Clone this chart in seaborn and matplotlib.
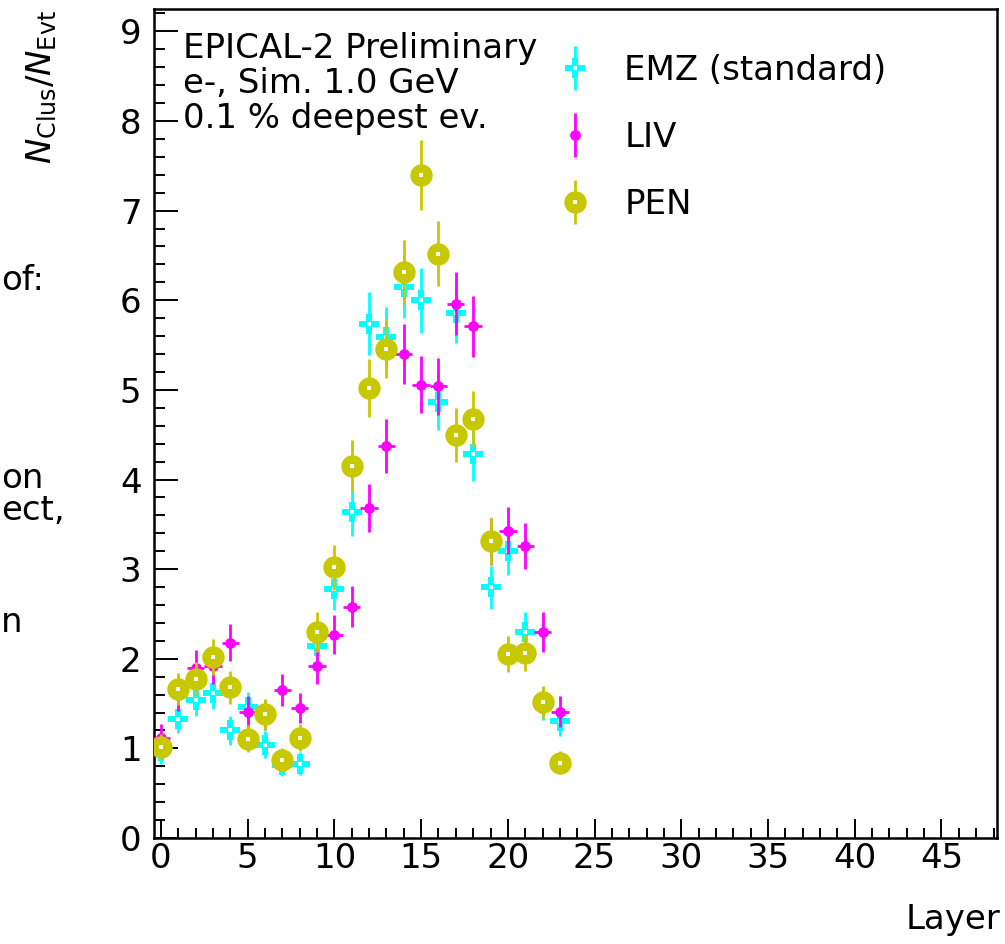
import matplotlib
matplotlib.use("Agg")
import matplotlib.pyplot as plt
import seaborn as sns
import pandas as pd
from matplotlib.lines import Line2D
from matplotlib.ticker import MultipleLocator

# ---------------- data ----------------
layers = list(range(24))
series_names = ["EMZ (standard)", "LIV", "PEN"]

emz = [0.97, 1.33, 1.54, 1.62, 1.20, 1.46, 1.04, 0.82, 0.83, 2.14, 2.78, 3.64,
       5.74, 5.59, 6.15, 6.00, 4.87, 5.86, 4.28, 2.80, 3.20, 2.30, 1.49, 1.30]
emz_err = [0.14, 0.16, 0.18, 0.18, 0.16, 0.17, 0.15, 0.13, 0.13, 0.21, 0.24, 0.27,
           0.35, 0.34, 0.35, 0.36, 0.32, 0.34, 0.30, 0.24, 0.26, 0.22, 0.17, 0.16]

liv = [1.12, 1.60, 1.90, 1.92, 2.18, 1.41, 1.37, 1.65, 1.45, 1.92, 2.27, 2.58,
       3.68, 4.37, 5.40, 5.06, 5.04, 5.96, 5.71, 3.31, 3.43, 3.26, 2.30, 1.41]
liv_err = [0.15, 0.18, 0.20, 0.20, 0.21, 0.17, 0.17, 0.18, 0.17, 0.20, 0.22, 0.23,
           0.27, 0.30, 0.33, 0.32, 0.32, 0.35, 0.34, 0.26, 0.26, 0.26, 0.22, 0.17]

pen = [1.02, 1.66, 1.77, 2.02, 1.68, 1.11, 1.38, 0.87, 1.12, 2.30, 3.02, 4.15,
       5.02, 5.46, 6.31, 7.40, 6.52, 4.50, 4.68, 3.31, 2.05, 2.06, 1.52, 0.84]
pen_err = [0.14, 0.18, 0.19, 0.20, 0.18, 0.15, 0.17, 0.13, 0.15, 0.22, 0.25, 0.29,
           0.32, 0.33, 0.36, 0.39, 0.36, 0.30, 0.31, 0.26, 0.20, 0.20, 0.18, 0.13]

x_ticks = [0, 5, 10, 15, 20, 25, 30, 35, 40, 45]
y_ticks = [0, 1, 2, 3, 4, 5, 6, 7, 8, 9]
info_lines = ["EPICAL-2 Preliminary", "e-, Sim. 1.0 GeV", "0.1 % deepest ev."]
slide_fragments = ["of:", "on", "ect,", "n"]

colors = {"EMZ (standard)": "#00ffff", "LIV": "#ff00ff", "PEN": "#c8c800"}

df = pd.concat([
    pd.DataFrame({"Layer": layers, "val": emz, "err": emz_err, "series": "EMZ (standard)"}),
    pd.DataFrame({"Layer": layers, "val": liv, "err": liv_err, "series": "LIV"}),
    pd.DataFrame({"Layer": layers, "val": pen, "err": pen_err, "series": "PEN"}),
], ignore_index=True)

# ---------------- style ----------------
sns.set_style("white")
plt.rcParams["font.family"] = ["DejaVu Sans"]
plt.rcParams["mathtext.fontset"] = "dejavusans"
plt.rcParams["text.color"] = "black"
plt.rcParams["xtick.color"] = "black"
plt.rcParams["ytick.color"] = "black"
FS = 24.5

fig = plt.figure(figsize=(10.05, 9.44), dpi=100)
ax = fig.add_axes([154 / 1005, 1 - 838 / 944, (997 - 154) / 1005, (838 - 9) / 944])

marker_main = {"EMZ (standard)": ("P", 200), "LIV": ("o", 60), "PEN": ("o", 260)}

z = 2
for name in series_names:
    sub = df[df["series"] == name]
    c = colors[name]
    ax.errorbar(sub["Layer"], sub["val"], yerr=sub["err"], xerr=0.5, fmt="none",
                ecolor=c, elinewidth=2.0, capsize=0, zorder=z)
    m, s = marker_main[name]
    sns.scatterplot(x=sub["Layer"], y=sub["val"], marker=m, s=s, color=c,
                    edgecolor=c, linewidth=0, ax=ax, zorder=z + 0.5, legend=False)
    if name != "LIV":
        sns.scatterplot(x=sub["Layer"], y=sub["val"], marker="s", s=9, color="white",
                        edgecolor="white", linewidth=0, ax=ax, zorder=z + 0.6, legend=False)
    z += 1

ax.set_xlim(-0.4, 48.2)
ax.set_ylim(0, 9.25)
ax.set_xticks(x_ticks)
ax.set_yticks(y_ticks)
ax.xaxis.set_minor_locator(MultipleLocator(1))
ax.yaxis.set_minor_locator(MultipleLocator(0.2))
ax.tick_params(axis="both", which="both", direction="in", colors="black",
               bottom=True, left=True, top=False, right=False,
               width=1.4, labelsize=FS)
ax.tick_params(axis="x", which="major", length=14, pad=3)
ax.tick_params(axis="x", which="minor", length=7)
ax.tick_params(axis="y", which="major", length=17, pad=9)
ax.tick_params(axis="y", which="minor", length=8)
for sp in ax.spines.values():
    sp.set_visible(True)
    sp.set_color("black")
    sp.set_linewidth(1.8)
ax.set_xlabel("")
ax.set_ylabel("")

# axis titles
fig.text(1000 / 1005, 1 - 920 / 944, "Layer", ha="right", va="center", fontsize=FS)
fig.text(42 / 1005, 1 - 10 / 944, r"$N_{\mathrm{Clus}}/N_{\mathrm{Evt}}$",
         rotation=90, ha="center", va="top", fontsize=FS)

# info text
for line, yb in zip(info_lines, [58, 93, 128]):
    fig.text(183 / 1005, 1 - yb / 944, line, ha="left", va="baseline", fontsize=FS)

# slide leftovers on the left
for txt, yb in zip(slide_fragments, [290, 488, 520, 632]):
    fig.text(1 / 1005, 1 - yb / 944, txt, ha="left", va="baseline", fontsize=FS)

# legend
handles = []
for name in series_names:
    c = colors[name]
    bar = Line2D([], [], marker="|", markersize=32, mew=2.0, color=c, linestyle="none")
    m, s = marker_main[name]
    ms = s ** 0.5
    mk = Line2D([], [], marker=m, markersize=ms, color=c, mec=c, mew=0, linestyle="none")
    if name != "LIV":
        ctr = Line2D([], [], marker="s", markersize=3.0, color="white", mew=0, linestyle="none")
        handles.append((bar, mk, ctr))
    else:
        handles.append((bar, mk))

leg = fig.legend(handles, series_names, loc="upper left",
                 bbox_to_anchor=(558 / 1005, 1 - 54 / 944), frameon=False,
                 fontsize=FS, handlelength=1.0, handletextpad=0.95,
                 labelspacing=1.0, borderpad=0, borderaxespad=0)

fig.savefig("out.png", dpi=100)
